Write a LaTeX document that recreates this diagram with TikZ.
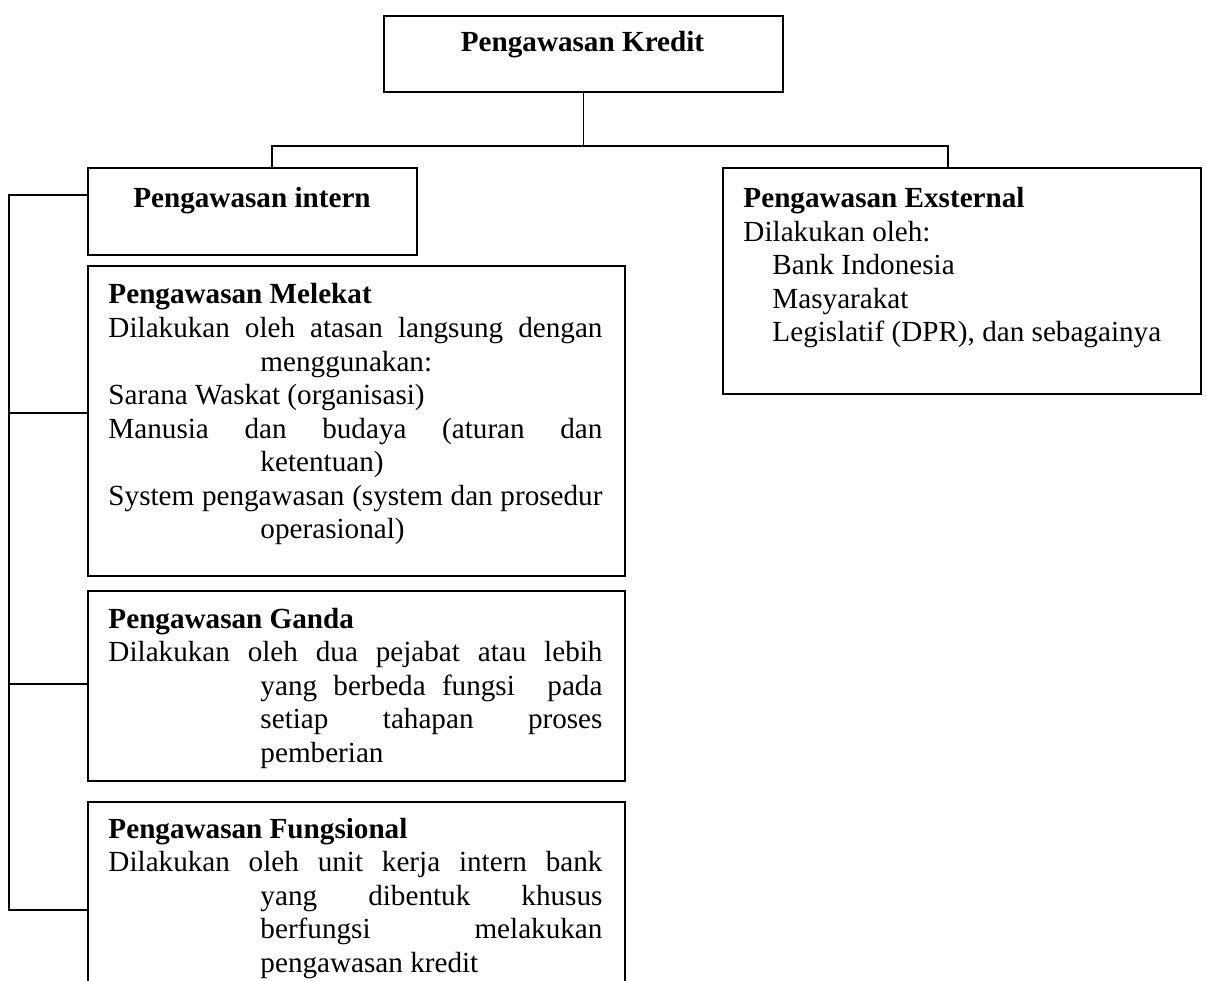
\documentclass[tikz,border=0pt]{standalone}
\usepackage{fontspec}
\setmainfont{Liberation Serif}
\newlength\pxu
\setlength\pxu{0.41153pt}
\begin{document}
\begin{tikzpicture}[x=0.41153pt,y=-0.41153pt,
  box/.style={draw,line width=0.75pt,rectangle,inner sep=0pt,anchor=north west},
  txt/.style={inner sep=0pt,anchor=base west,font=\fontsize{12}{13.8}\selectfont},
  ttl/.style={txt,font=\fontsize{12}{13.8}\selectfont\bfseries},
  link/.style={line width=0.75pt}]
\clip (0,0) rectangle (1206,981);
\fill[white] (0,0) rectangle (1206,981);
% boxes
\node[box,minimum width=399\pxu,minimum height=76\pxu] (kredit) at (383,15) {};
\node[box,minimum width=329\pxu,minimum height=87\pxu] (intern) at (87,167) {};
\node[box,minimum width=478\pxu,minimum height=226\pxu] (ext) at (722,167) {};
\node[box,minimum width=537\pxu,minimum height=310\pxu] (melekat) at (87,265) {};
\node[box,minimum width=537\pxu,minimum height=190\pxu] (ganda) at (87,590) {};
\node[box,minimum width=537\pxu,minimum height=230\pxu] (fung) at (87,801) {};
% titles
\node[ttl,anchor=base] (tkredit) at (582.5,52) {Pengawasan Kredit};
\node[ttl,anchor=base] (tintern) at (252,208) {Pengawasan intern};
% external
\node[ttl] (e1) at (743,208) {Pengawasan Exsternal};
\node[txt] (e2) at (743,241.5) {Dilakukan oleh:};
\node[txt] (e3) at (772,275) {Bank Indonesia};
\node[txt] (e4) at (772,308.5) {Masyarakat};
\node[txt] (e5) at (772,342) {Legislatif (DPR), dan sebagainya};
% melekat
\node[ttl] (m1) at (108,304) {Pengawasan Melekat};
\node[txt] (m2) at (108,337.5) {\makebox[494\pxu][s]{Dilakukan oleh atasan langsung dengan}};
\node[txt] (m3) at (260,371) {menggunakan:};
\node[txt] (m4) at (108,404.5) {Sarana Waskat (organisasi)};
\node[txt] (m5) at (108,438) {\makebox[494\pxu][s]{Manusia dan budaya (aturan dan}};
\node[txt] (m6) at (260,471.5) {ketentuan)};
\node[txt] (m7) at (108,505) {\makebox[494\pxu][s]{System pengawasan (system dan prosedur}};
\node[txt] (m8) at (260,538.5) {operasional)};
% ganda
\node[ttl] (g1) at (108,628) {Pengawasan Ganda};
\node[txt] (g2) at (108,661.5) {\makebox[494\pxu][s]{Dilakukan oleh dua pejabat atau lebih}};
\node[txt] (g3) at (260,695) {\makebox[342\pxu][s]{yang berbeda fungsi\ \ pada}};
\node[txt] (g4) at (260,728.5) {\makebox[342\pxu][s]{setiap tahapan proses}};
\node[txt] (g5) at (260,762) {pemberian};
% fungsional
\node[ttl] (f1) at (108,838) {Pengawasan Fungsional};
\node[txt] (f2) at (108,871.5) {\makebox[494\pxu][s]{Dilakukan oleh unit kerja intern bank}};
\node[txt] (f3) at (260,905) {\makebox[342\pxu][s]{yang dibentuk khusus}};
\node[txt] (f4) at (260,938.5) {\makebox[342\pxu][s]{berfungsi melakukan}};
\node[txt] (f5) at (260,972) {pengawasan kredit};
% connectors
\coordinate (busL) at (272,146);
\coordinate (busR) at (948,146);
\draw[link] (kredit.south) -- (kredit.south |- busL);
\draw[link] (busL |- intern.north) -- (busL) -- (busR) -- (busR |- ext.north);
\coordinate (b1) at (9,195);
\coordinate (b2) at (9,413);
\coordinate (b3) at (9,684);
\coordinate (b4) at (9,910);
\draw[link] (b1 -| intern.west) -- (b1) -- (b4) -- (b4 -| fung.west);
\draw[link] (b2) -- (b2 -| melekat.west);
\draw[link] (b3) -- (b3 -| ganda.west);
\end{tikzpicture}
\end{document}
